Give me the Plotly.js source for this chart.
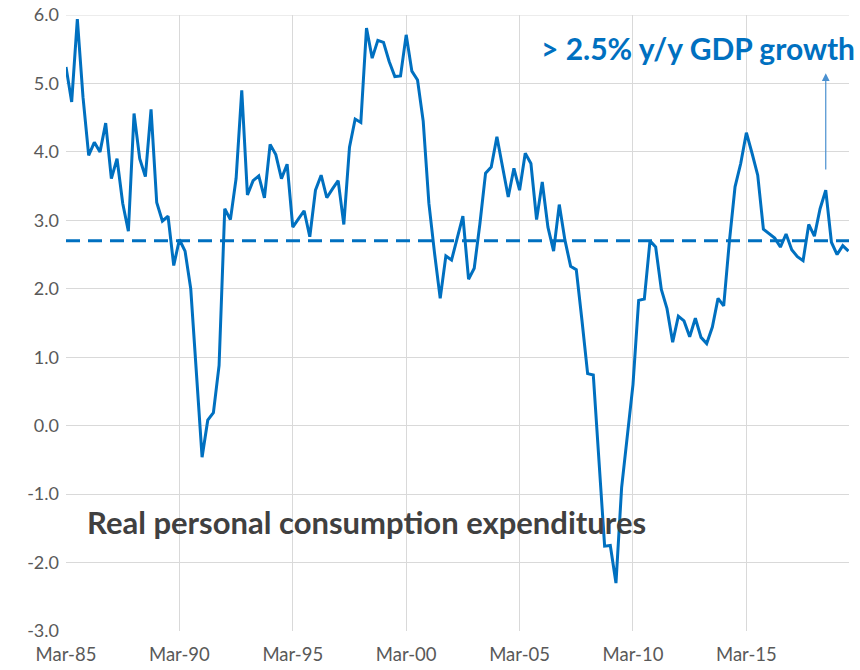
<!DOCTYPE html>
<html><head><meta charset="utf-8">
<script src="https://cdn.plot.ly/plotly-3.0.1.min.js"></script>
<style>html,body{margin:0;padding:0;background:#fff}#chart{width:860px;height:670px}</style>
</head><body><div id="chart"></div>
<script>
const quarters = [
"Mar-85","Jun-85","Sep-85","Dec-85","Mar-86","Jun-86","Sep-86","Dec-86","Mar-87","Jun-87","Sep-87","Dec-87",
"Mar-88","Jun-88","Sep-88","Dec-88","Mar-89","Jun-89","Sep-89","Dec-89","Mar-90","Jun-90","Sep-90","Dec-90",
"Mar-91","Jun-91","Sep-91","Dec-91","Mar-92","Jun-92","Sep-92","Dec-92","Mar-93","Jun-93","Sep-93","Dec-93",
"Mar-94","Jun-94","Sep-94","Dec-94","Mar-95","Jun-95","Sep-95","Dec-95","Mar-96","Jun-96","Sep-96","Dec-96",
"Mar-97","Jun-97","Sep-97","Dec-97","Mar-98","Jun-98","Sep-98","Dec-98","Mar-99","Jun-99","Sep-99","Dec-99",
"Mar-00","Jun-00","Sep-00","Dec-00","Mar-01","Jun-01","Sep-01","Dec-01","Mar-02","Jun-02","Sep-02","Dec-02",
"Mar-03","Jun-03","Sep-03","Dec-03","Mar-04","Jun-04","Sep-04","Dec-04","Mar-05","Jun-05","Sep-05","Dec-05",
"Mar-06","Jun-06","Sep-06","Dec-06","Mar-07","Jun-07","Sep-07","Dec-07","Mar-08","Jun-08","Sep-08","Dec-08",
"Mar-09","Jun-09","Sep-09","Dec-09","Mar-10","Jun-10","Sep-10","Dec-10","Mar-11","Jun-11","Sep-11","Dec-11",
"Mar-12","Jun-12","Sep-12","Dec-12","Mar-13","Jun-13","Sep-13","Dec-13","Mar-14","Jun-14","Sep-14","Dec-14",
"Mar-15","Jun-15","Sep-15","Dec-15","Mar-16","Jun-16","Sep-16","Dec-16","Mar-17","Jun-17","Sep-17","Dec-17",
"Mar-18","Jun-18","Sep-18","Dec-18","Mar-19","Jun-19","Sep-19"
];
const pce = [
5.24,4.73,5.94,4.80,3.95,4.14,4.00,4.42,3.61,3.90,3.25,2.84,
4.56,3.90,3.64,4.62,3.26,2.99,3.06,2.34,2.72,2.55,2.00,0.80,
-0.46,0.08,0.19,0.88,3.17,3.01,3.61,4.90,3.37,3.58,3.65,3.33,
4.11,3.96,3.61,3.82,2.90,3.02,3.14,2.76,3.44,3.66,3.33,3.46,
3.58,2.94,4.07,4.48,4.43,5.81,5.37,5.63,5.60,5.32,5.10,5.11,
5.71,5.18,5.05,4.45,3.25,2.52,1.86,2.48,2.42,2.74,3.06,2.14,
2.30,2.95,3.69,3.78,4.22,3.78,3.34,3.76,3.44,3.98,3.83,3.01,
3.56,2.90,2.55,3.23,2.71,2.33,2.28,1.54,0.76,0.74,-0.51,-1.76,
-1.75,-2.30,-0.90,-0.17,0.60,1.83,1.85,2.70,2.61,1.99,1.71,1.22,
1.60,1.53,1.30,1.57,1.29,1.20,1.44,1.86,1.75,2.69,3.49,3.83,
4.28,3.98,3.66,2.87,2.81,2.74,2.61,2.80,2.57,2.47,2.41,2.94,
2.77,3.17,3.44,2.68,2.50,2.63,2.55
];
const xTickLabels = ["Mar-85","Mar-90","Mar-95","Mar-00","Mar-05","Mar-10","Mar-15"];
const yTickVals = [-3,-2,-1,0,1,2,3,4,5,6];
const yTickText = ["-3.0","-2.0","-1.0","0.0","1.0","2.0","3.0","4.0","5.0","6.0"];
const threshold = 2.7;
const gdpLabel = "> 2.5% y/y GDP growth";
const seriesLabel = "Real personal consumption expenditures";
const arrowQuarter = "Sep-18";
const arrowStart = 3.72;
const arrowEnd = 5.15;

const blue = "#0070C0";
const font = "Lato, 'Open Sans', sans-serif";

const trace = {
  x: quarters, y: pce, type: "scatter", mode: "lines",
  line: {color: blue, width: 3}, hoverinfo: "skip"
};

const layout = {
  width: 860, height: 670,
  margin: {l: 66, r: 11, t: 15, b: 39},
  paper_bgcolor: "#fff", plot_bgcolor: "#fff",
  showlegend: false,
  font: {family: font, color: "#595959", size: 18},
  xaxis: {
    type: "category", range: [0, 138.1],
    tickmode: "array", tickvals: xTickLabels, ticktext: xTickLabels,
    showgrid: true, gridcolor: "#d9d9d9", gridwidth: 1,
    ticks: "", showline: false, zeroline: false,
    tickfont: {size: 18.5, color: "#595959", family: font},
    ticklabelstandoff: 10
  },
  yaxis: {
    range: [-3, 6], tickmode: "array", tickvals: yTickVals, ticktext: yTickText,
    showgrid: true, gridcolor: "#d9d9d9", gridwidth: 1,
    ticks: "", showline: false, zeroline: false,
    tickfont: {size: 18, color: "#595959", family: font},
    ticklabelstandoff: 6
  },
  shapes: [
    {type: "line", xref: "paper", yref: "y", x0: 0, x1: 1, y0: threshold, y1: threshold,
     line: {color: blue, width: 3, dash: "14px,8px"}, layer: "above"},
    {type: "line", xref: "paper", yref: "y", x0: 0, x1: 1, y0: 6, y1: 6,
     line: {color: "#d9d9d9", width: 1}, layer: "below"}
  ],
  annotations: [
    {text: gdpLabel, xref: "paper", yref: "paper", x: 1.01, y: 0.946, xanchor: "right", yanchor: "middle",
     showarrow: false, font: {family: font, size: 30, color: blue, weight: "bold"}},
    {text: seriesLabel, xref: "paper", yref: "y", x: 0.024, y: -1.41, xanchor: "left", yanchor: "middle",
     showarrow: false, font: {family: font, size: 31, color: "#404040", weight: "bold"}},
    {text: "", xref: "x", yref: "y", x: arrowQuarter, y: arrowEnd, axref: "x", ayref: "y",
     ax: arrowQuarter, ay: arrowStart, showarrow: true, arrowhead: 2, arrowsize: 1.3, arrowwidth: 1.2,
     arrowcolor: "#4a90d0", standoff: 0}
  ]
};

Plotly.newPlot("chart", [trace], layout, {displayModeBar: false, staticPlot: true});
</script>
</body></html>
